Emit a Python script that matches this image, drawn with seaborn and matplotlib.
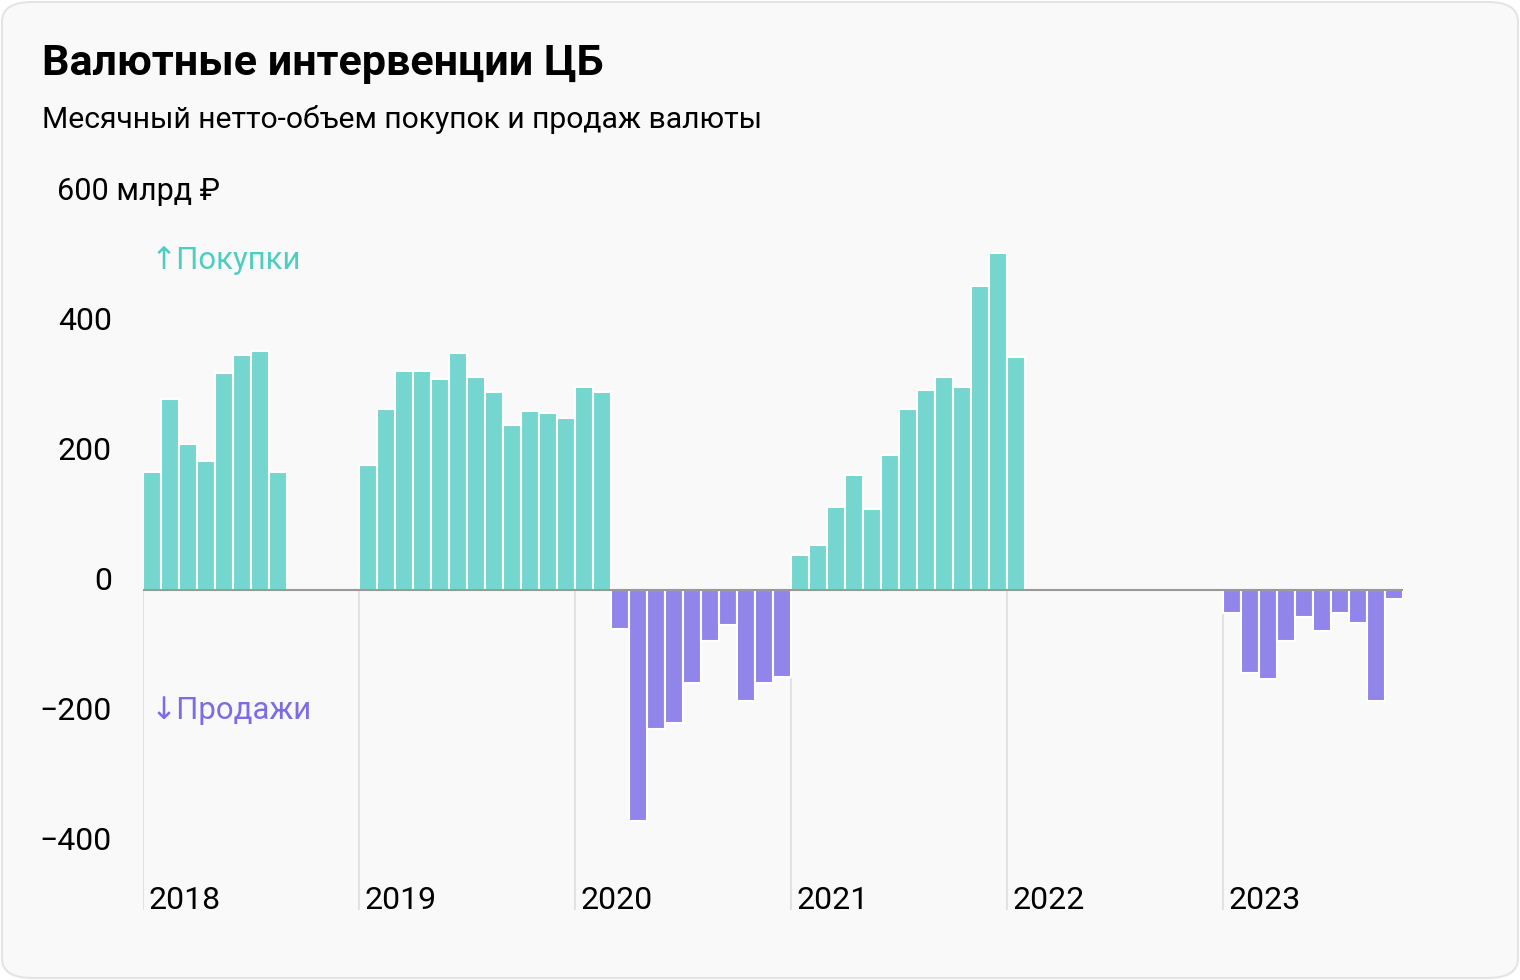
import numpy as np
import pandas as pd
import matplotlib
matplotlib.use("Agg")
import matplotlib.pyplot as plt
import matplotlib.transforms as mtransforms
from matplotlib.patches import FancyBboxPatch
import seaborn as sns

# monthly net FX purchases (+) / sales (-) of the Bank of Russia, bn RUB
years = [2018, 2019, 2020, 2021, 2022, 2023]
vals_2018 = [181, 294, 224, 199, 334, 362, 368, 181, 0, 0, 0, 0]
vals_2019 = [193, 279, 337, 337, 325, 365, 328, 304, 254, 276, 273, 264]
vals_2020 = [313, 304, -60, -355, -214, -205, -143, -78, -54, -171, -143, -134]
vals_2021 = [54, 70, 128, 177, 125, 208, 279, 307, 328, 313, 467, 519]
vals_2022 = [359, 0, 0, 0, 0, 0, 0, 0, 0, 0, 0, 0]
vals_2023 = [-35, -128, -137, -78, -42, -63, -35, -51, -171, -14]

y_ticks = [-400, -200, 0, 200, 400]
title = "Валютные интервенции ЦБ"
subtitle = "Месячный нетто-объем покупок и продаж валюты"

values = vals_2018 + vals_2019 + vals_2020 + vals_2021 + vals_2022 + vals_2023
months = [f"{y}-{m:02d}" for y in years for m in range(1, 13)][:len(values)]
df = pd.DataFrame({"month": months, "value": values})
df["kind"] = np.where(df["value"] >= 0, "buy", "sell")

TEAL = "#74d6cf"
PURPLE = "#9285ea"

sns.set_theme(style="white")
plt.rcParams["font.family"] = ["Roboto", "DejaVu Sans"]

W, H = 1520, 980
fig = plt.figure(figsize=(W / 100, H / 100), dpi=100)
fig.patch.set_facecolor("white")

# card background
card = FancyBboxPatch((2 / W, 2 / H), 1 - 4 / W, 1 - 4 / H,
                      boxstyle="round,pad=0,rounding_size=0.02",
                      transform=fig.transFigure, facecolor="#f9f9f9",
                      edgecolor="#e4e4e4", linewidth=1.5, zorder=-10)
fig.patches.append(card)

px0, px1 = 143, 1403
py_top, py_bot = 200, 910
ax = fig.add_axes([px0 / W, 1 - py_bot / H, (px1 - px0) / W, (py_bot - py_top) / H])
ax.set_facecolor("none")
ax.set_zorder(5)

sns.barplot(data=df, x="month", y="value", hue="kind", order=months,
            palette={"buy": TEAL, "sell": PURPLE}, dodge=False, width=1.0,
            saturation=1, edgecolor="white", linewidth=1.5, legend=False,
            ax=ax, zorder=2)

ppu = 0.65  # pixels per unit
ymax = (590 - py_top) / ppu
ymin = -(py_bot - 590) / ppu
ax.set_ylim(ymin, ymax)
ax.set_xlim(-0.5, len(months) - 0.5)
ax.axhline(0, color="#999999", linewidth=1.5, zorder=3)

for i, y in enumerate(years):
    xb = i * 12 - 0.5
    ax.vlines(xb, ymin, 0, color="#e2e2e2", linewidth=1.5, zorder=1)
    ax.text(xb + 0.28, -478, str(y), fontsize=23, color="black",
            ha="left", va="center")

ax.set_xticks([])
ax.set_yticks([])
ax.set_xlabel("")
ax.set_ylabel("")
for s in ax.spines.values():
    s.set_visible(False)

tr = mtransforms.blended_transform_factory(fig.transFigure, ax.transData)
for t in y_ticks:
    lab = f"{t}".replace("-", "\u2212")
    ax.text(112 / W, t, lab, transform=tr, fontsize=23, ha="right",
            va="baseline", color="black", clip_on=False)
ax.text(57 / W, 600, "600 млрд ₽", transform=tr, fontsize=22, ha="left",
        va="baseline", color="black", clip_on=False)

ax.text(151 / W, (590 - 260) / ppu, "↑Покупки", fontsize=22.4,
        color="#4ecdc1", ha="left", va="center", transform=tr)
ax.text(151 / W, -(710 - 590) / ppu, "↓Продажи", fontsize=22.4,
        color="#7d6be8", ha="left", va="center", transform=tr)

fig.text(42 / W, 1 - 63 / H, title, fontsize=31, fontweight="bold",
         ha="left", va="center", color="black")
fig.text(42 / W, 1 - 120 / H, subtitle, fontsize=21.7, ha="left",
         va="center", color="black")

fig.savefig("out.png", dpi=100, facecolor=fig.get_facecolor())
